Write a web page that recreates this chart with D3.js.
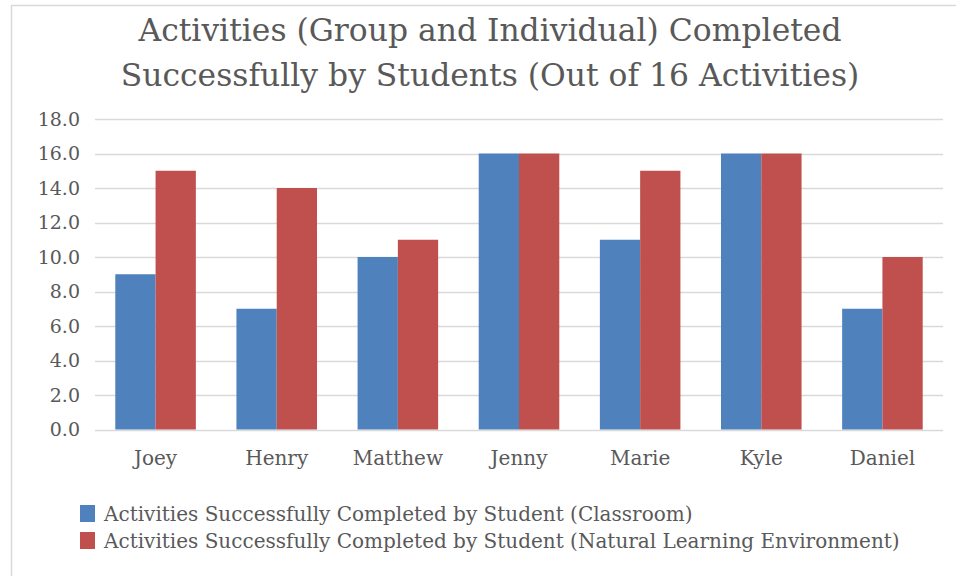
<!DOCTYPE html>
<html lang="en">
<head>
    <meta charset="UTF-8">
    <title>Activities Completed Successfully by Students</title>
    <script src="https://cdnjs.cloudflare.com/ajax/libs/d3/7.8.4/d3.min.js"></script>
    <style>
        body { margin: 0; background: #fff; }
        svg { display: block; }
        text { font-family: "DejaVu Serif", serif; fill: #595959; }
    </style>
</head>
<body>
    <svg width="956" height="576"></svg>

    <script>
        // data
        const students = ["Joey", "Henry", "Matthew", "Jenny", "Marie", "Kyle", "Daniel"];
        const classroom = [9, 7, 10, 16, 11, 16, 7];
        const natural = [15, 14, 11, 16, 15, 16, 10];
        const seriesNames = [
            "Activities Successfully Completed by Student (Classroom)",
            "Activities Successfully Completed by Student (Natural Learning Environment)"
        ];
        const seriesColors = ["#4F81BD", "#C0504D"];
        const yTicks = [0, 2, 4, 6, 8, 10, 12, 14, 16, 18];
        const titleLines = [
            "Activities (Group and Individual) Completed",
            "Successfully by Students (Out of 16 Activities)"
        ];

        const svg = d3.select("svg");

        // chart area frame (only left and top edges visible)
        svg.append("path")
            .attr("d", "M11.5,576V5.5H956")
            .attr("fill", "none")
            .attr("stroke", "#D9D9D9")
            .attr("stroke-width", 1.5);

        const x = d3.scaleBand()
            .domain(students)
            .range([95, 943])
            .paddingInner(0.335)
            .paddingOuter(0.1675);

        const xs = d3.scaleBand()
            .domain([0, 1])
            .range([0, x.bandwidth()]);

        const y = d3.scaleLinear()
            .domain([0, 18])
            .range([429.5, 119]);

        // gridlines
        svg.append("g")
            .selectAll("line")
            .data(yTicks)
            .enter().append("line")
            .attr("x1", 95)
            .attr("x2", 943)
            .attr("y1", d => Math.round(y(d)) + 0.5)
            .attr("y2", d => Math.round(y(d)) + 0.5)
            .attr("stroke", "#D9D9D9")
            .attr("stroke-width", 1.5);

        // y axis labels
        const yAxis = d3.axisLeft(y)
            .tickValues(yTicks)
            .tickFormat(d3.format(".1f"))
            .tickSize(0)
            .tickPadding(15);

        svg.append("g")
            .attr("transform", "translate(95,0)")
            .call(yAxis)
            .call(g => g.select(".domain").remove())
            .call(g => g.selectAll("text")
                .attr("fill", "#595959")
                .style("font-size", "19px")
                .style("font-family", "'DejaVu Serif', serif"));

        // x axis labels
        const xAxis = d3.axisBottom(x).tickSize(0).tickPadding(21);
        svg.append("g")
            .attr("transform", "translate(0,429.5)")
            .call(xAxis)
            .call(g => g.select(".domain").remove())
            .call(g => g.selectAll("text")
                .attr("fill", "#595959")
                .style("font-size", "20px")
                .style("font-family", "'DejaVu Serif', serif"));

        // bars
        const rows = students.map((s, i) => ({ name: s, values: [classroom[i], natural[i]] }));

        const groups = svg.append("g")
            .selectAll("g")
            .data(rows)
            .enter().append("g")
            .attr("transform", d => `translate(${x(d.name)},0)`);

        groups.selectAll("rect")
            .data(d => d.values.map((v, k) => ({ k: k, v: v })))
            .enter().append("rect")
            .attr("x", d => xs(d.k))
            .attr("width", xs.bandwidth())
            .attr("y", d => y(d.v))
            .attr("height", d => y(0) - y(d.v))
            .attr("fill", d => seriesColors[d.k]);

        // title
        svg.append("g")
            .selectAll("text")
            .data(titleLines)
            .enter().append("text")
            .attr("x", 490)
            .attr("y", (d, i) => 41 + i * 45)
            .attr("text-anchor", "middle")
            .style("font-size", "31.4px")
            .text(d => d);

        // legend
        const legend = svg.append("g")
            .selectAll("g")
            .data(seriesNames)
            .enter().append("g")
            .attr("transform", (d, i) => `translate(80,${505 + i * 27})`);

        legend.append("rect")
            .attr("width", 15)
            .attr("height", 17)
            .attr("fill", (d, i) => seriesColors[i]);

        legend.append("text")
            .attr("x", 24)
            .attr("y", 16)
            .style("font-size", "20px")
            .text(d => d);
    </script>
</body>
</html>
